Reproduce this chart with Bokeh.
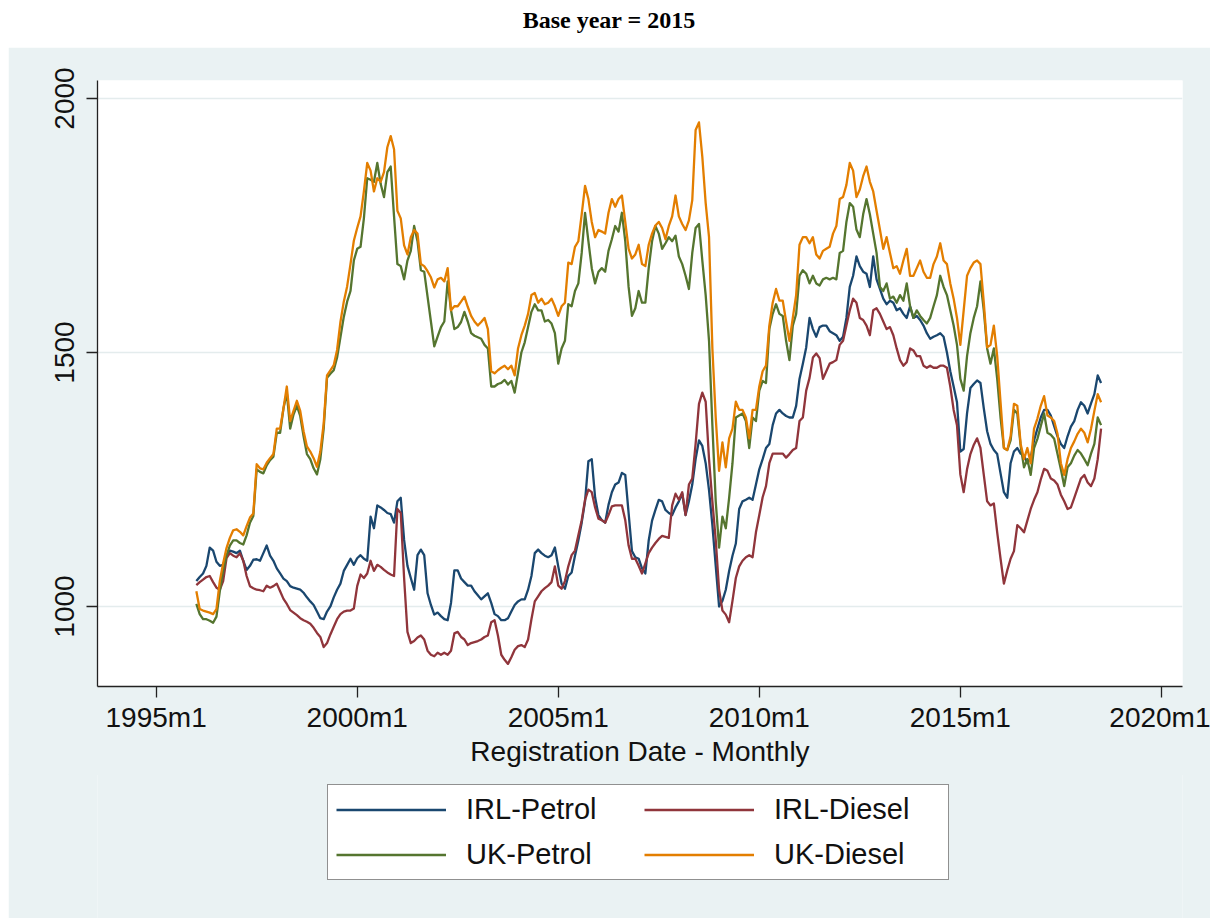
from bokeh.plotting import figure
from bokeh.models import (ColumnDataSource, FixedTicker, Legend, LegendItem,
                          Div, Range1d)
from bokeh.layouts import column
from bokeh.embed import file_html
from bokeh.resources import INLINE

# ---------------- data (monthly index, Stata %tm: 432 = 1996m1) ----------------
start_month = 432

irl_petrol = [
    1050, 1058, 1065, 1080, 1116, 1110, 1088, 1080, 1082, 1100, 1110, 1108,  # 1996
    1105, 1110, 1090, 1072, 1080, 1092, 1093, 1090, 1105, 1120, 1100, 1090,  # 1997
    1075, 1065, 1055, 1050, 1040, 1037, 1035, 1033, 1027, 1018, 1010, 1003,  # 1998
    990, 977, 975, 990, 1000, 1018, 1033, 1045, 1070, 1082, 1094, 1082,      # 1999
    1095, 1101, 1094, 1090, 1177, 1154, 1199, 1195, 1190, 1184, 1182, 1165,  # 2000
    1207, 1214, 1131, 1080, 1056, 1033, 1101, 1112, 1101, 1026, 1003, 984,   # 2001
    988, 981, 975, 973, 1007, 1071, 1071, 1055, 1048, 1041, 1041, 1030,      # 2002
    1022, 1014, 1020, 1026, 1007, 985, 981, 973, 973, 977, 990, 1003,        # 2003
    1010, 1014, 1014, 1033, 1060, 1105, 1112, 1105, 1100, 1097, 1101, 1116,  # 2004
    1079, 1045, 1035, 1060, 1067, 1100, 1130, 1165, 1207, 1286, 1290, 1215,  # 2005
    1180, 1170, 1165, 1200, 1225, 1240, 1244, 1263, 1259, 1184, 1109, 1097,  # 2006
    1094, 1075, 1065, 1130, 1169, 1190, 1210, 1207, 1190, 1184, 1180, 1195,  # 2007
    1207, 1222, 1180, 1207, 1240, 1290, 1327, 1316, 1282, 1229, 1160, 1080,  # 2008
    1000, 1011, 1033, 1070, 1100, 1124, 1192, 1207, 1210, 1214, 1210, 1240,  # 2009
    1270, 1290, 1312, 1320, 1357, 1380, 1387, 1380, 1375, 1372, 1372, 1395,  # 2010
    1448, 1478, 1510, 1568, 1546, 1531, 1550, 1553, 1553, 1542, 1538, 1534,  # 2011
    1523, 1531, 1568, 1629, 1651, 1689, 1670, 1659, 1655, 1629, 1689, 1644,  # 2012
    1625, 1606, 1595, 1602, 1598, 1583, 1587, 1576, 1568, 1591, 1568, 1572,  # 2013
    1564, 1553, 1538, 1527, 1531, 1534, 1538, 1531, 1500, 1463, 1433, 1402,  # 2014
    1305, 1310, 1380, 1430, 1438, 1445, 1440, 1390, 1345, 1320, 1308, 1300,  # 2015
    1262, 1225, 1214, 1282, 1305, 1312, 1301, 1297, 1282, 1293, 1327, 1350,  # 2016
    1372, 1387, 1387, 1376, 1355, 1335, 1320, 1312, 1335, 1354, 1365, 1387,  # 2017
    1402, 1395, 1380, 1400, 1418, 1455, 1440,                                # 2018
]

irl_diesel = [
    1042, 1048, 1053, 1058, 1060, 1048, 1037, 1033, 1050, 1095, 1105, 1100,  # 1996
    1097, 1105, 1090, 1060, 1040, 1036, 1033, 1032, 1030, 1041, 1037, 1040,  # 1997
    1045, 1030, 1015, 1005, 993, 988, 983, 977, 973, 970, 966, 958,          # 1998
    948, 940, 920, 928, 945, 960, 975, 985, 990, 992, 992, 996,              # 1999
    1040, 1063, 1056, 1065, 1090, 1070, 1082, 1078, 1072, 1067, 1063, 1060,  # 2000
    1192, 1184, 1056, 950, 928, 932, 939, 943, 935, 913, 905, 902,           # 2001
    909, 905, 909, 905, 913, 947, 950, 940, 935, 924, 928, 930,              # 2002
    932, 935, 940, 943, 969, 973, 943, 905, 895, 887, 900, 915,              # 2003
    922, 924, 920, 935, 975, 1010, 1020, 1030, 1036, 1041, 1048, 1079,       # 2004
    1041, 1035, 1050, 1079, 1101, 1110, 1140, 1170, 1210, 1230, 1225, 1195,  # 2005
    1173, 1170, 1165, 1180, 1197, 1199, 1199, 1199, 1170, 1120, 1094, 1094,  # 2006
    1080, 1065, 1085, 1105, 1116, 1125, 1133, 1139, 1137, 1135, 1199, 1222,  # 2007
    1210, 1225, 1180, 1240, 1252, 1320, 1399, 1421, 1403, 1290, 1207, 1131,  # 2008
    1033, 992, 984, 969, 1011, 1056, 1079, 1090, 1097, 1101, 1097, 1146,     # 2009
    1180, 1215, 1237, 1282, 1301, 1301, 1301, 1301, 1293, 1300, 1308, 1312,  # 2010
    1365, 1372, 1425, 1450, 1490, 1498, 1489, 1448, 1463, 1478, 1481, 1485,  # 2011
    1515, 1523, 1553, 1583, 1606, 1598, 1568, 1564, 1553, 1534, 1583, 1587,  # 2012
    1576, 1561, 1546, 1550, 1534, 1508, 1485, 1474, 1481, 1508, 1504, 1493,  # 2013
    1493, 1474, 1470, 1474, 1470, 1470, 1474, 1474, 1470, 1433, 1387, 1357,  # 2014
    1260, 1225, 1270, 1300, 1318, 1331, 1312, 1259, 1207, 1199, 1203, 1146,  # 2015
    1094, 1045, 1071, 1094, 1109, 1160, 1154, 1146, 1169, 1192, 1210, 1225,  # 2016
    1250, 1271, 1267, 1252, 1248, 1240, 1220, 1207, 1192, 1195, 1214, 1233,  # 2017
    1252, 1259, 1244, 1237, 1252, 1290, 1350,                                # 2018
]

uk_petrol = [
    1005, 985, 975, 975, 972, 968, 980, 1030, 1070, 1100, 1120, 1130,        # 1996
    1130, 1125, 1122, 1140, 1165, 1178, 1270, 1265, 1262, 1278, 1288, 1295,  # 1997
    1342, 1342, 1390, 1420, 1350, 1378, 1395, 1375, 1335, 1300, 1290, 1272,  # 1998
    1260, 1290, 1350, 1450, 1458, 1465, 1490, 1530, 1570, 1600, 1621, 1681,  # 1999
    1704, 1708, 1764, 1843, 1840, 1836, 1873, 1832, 1806, 1855, 1866, 1768,  # 2000
    1674, 1670, 1644, 1681, 1700, 1749, 1719, 1662, 1659, 1610, 1561, 1512,  # 2001
    1531, 1550, 1561, 1640, 1583, 1546, 1550, 1560, 1580, 1561, 1538, 1533,  # 2002
    1530, 1527, 1515, 1508, 1433, 1433, 1438, 1440, 1446, 1437, 1444, 1421,  # 2003
    1460, 1500, 1520, 1550, 1580, 1595, 1583, 1583, 1561, 1564, 1557, 1538,  # 2004
    1478, 1508, 1523, 1595, 1591, 1621, 1636, 1696, 1775, 1719, 1666, 1636,  # 2005
    1659, 1666, 1659, 1700, 1723, 1749, 1738, 1775, 1719, 1629, 1572, 1587,  # 2006
    1621, 1598, 1598, 1666, 1719, 1749, 1734, 1704, 1715, 1727, 1719, 1730,  # 2007
    1689, 1674, 1651, 1625, 1696, 1745, 1753, 1681, 1613, 1523, 1357, 1207,  # 2008
    1116, 1177, 1154, 1214, 1282, 1372, 1376, 1380, 1365, 1312, 1372, 1365,  # 2009
    1425, 1444, 1440, 1546, 1576, 1595, 1576, 1572, 1523, 1485, 1553, 1576,  # 2010
    1651, 1662, 1655, 1636, 1651, 1636, 1632, 1644, 1647, 1644, 1647, 1644,  # 2011
    1696, 1700, 1757, 1794, 1787, 1742, 1727, 1772, 1802, 1772, 1734, 1696,  # 2012
    1629, 1621, 1636, 1606, 1610, 1598, 1613, 1602, 1636, 1591, 1568, 1583,  # 2013
    1572, 1564, 1557, 1568, 1591, 1613, 1651, 1629, 1613, 1583, 1553, 1515,  # 2014
    1448, 1425, 1493, 1538, 1568, 1591, 1640, 1583, 1508, 1478, 1508, 1448,  # 2015
    1372, 1312, 1308, 1327, 1387, 1380, 1316, 1274, 1290, 1259, 1312, 1330,  # 2016
    1355, 1380, 1342, 1338, 1330, 1300, 1270, 1237, 1274, 1282, 1297, 1308,  # 2017
    1301, 1290, 1278, 1301, 1320, 1372, 1357,                                # 2018
]

uk_diesel = [
    1030, 995, 992, 990, 988, 985, 995, 1050, 1085, 1115, 1135, 1150,        # 1996
    1152, 1147, 1140, 1158, 1175, 1183, 1280, 1272, 1270, 1283, 1292, 1300,  # 1997
    1350, 1350, 1390, 1433, 1365, 1385, 1405, 1385, 1345, 1315, 1305, 1292,  # 1998
    1275, 1305, 1360, 1455, 1465, 1475, 1505, 1560, 1600, 1630, 1674, 1720,  # 1999
    1745, 1768, 1817, 1873, 1858, 1817, 1843, 1836, 1855, 1904, 1926, 1900,  # 2000
    1779, 1764, 1711, 1693, 1727, 1741, 1734, 1674, 1670, 1660, 1648, 1628,  # 2001
    1644, 1647, 1640, 1666, 1583, 1591, 1591, 1600, 1610, 1590, 1572, 1561,  # 2002
    1553, 1560, 1568, 1546, 1463, 1459, 1465, 1470, 1474, 1467, 1474, 1455,  # 2003
    1508, 1534, 1553, 1576, 1613, 1617, 1598, 1606, 1595, 1598, 1606, 1591,  # 2004
    1572, 1591, 1598, 1677, 1674, 1708, 1719, 1772, 1828, 1802, 1757, 1727,  # 2005
    1741, 1738, 1734, 1775, 1802, 1787, 1802, 1809, 1757, 1704, 1685, 1693,  # 2006
    1712, 1674, 1670, 1712, 1734, 1750, 1757, 1745, 1723, 1749, 1768, 1809,  # 2007
    1768, 1753, 1741, 1760, 1800, 1938, 1953, 1885, 1794, 1727, 1508, 1372,  # 2008
    1267, 1323, 1274, 1331, 1350, 1403, 1387, 1387, 1372, 1331, 1387, 1387,  # 2009
    1433, 1463, 1474, 1553, 1598, 1625, 1602, 1602, 1561, 1523, 1568, 1613,  # 2010
    1712, 1727, 1727, 1715, 1727, 1693, 1685, 1700, 1704, 1708, 1734, 1749,  # 2011
    1802, 1806, 1830, 1873, 1858, 1806, 1821, 1847, 1866, 1836, 1817, 1779,  # 2012
    1742, 1704, 1727, 1696, 1666, 1670, 1655, 1681, 1704, 1651, 1651, 1666,  # 2013
    1681, 1659, 1647, 1647, 1674, 1689, 1715, 1681, 1674, 1636, 1606, 1568,  # 2014
    1515, 1583, 1651, 1666, 1677, 1681, 1674, 1598, 1510, 1515, 1553, 1493,  # 2015
    1402, 1312, 1308, 1335, 1399, 1395, 1320, 1290, 1312, 1282, 1350, 1370,  # 2016
    1395, 1414, 1376, 1372, 1365, 1340, 1282, 1259, 1290, 1312, 1325, 1340,  # 2017
    1350, 1342, 1323, 1350, 1385, 1418, 1402,                                # 2018
]

series_names = ["IRL-Petrol", "IRL-Diesel", "UK-Petrol", "UK-Diesel"]
series_colors = ["#1A476F", "#90353B", "#55752F", "#E37E00"]

x_tick_months = [420, 480, 540, 600, 660, 720]
x_tick_labels = ["1995m1", "2000m1", "2005m1", "2010m1", "2015m1", "2020m1"]
y_ticks = [1000, 1500, 2000]

months = list(range(start_month, start_month + len(irl_petrol)))
source = ColumnDataSource(dict(
    month=months,
    irl_petrol=irl_petrol,
    irl_diesel=irl_diesel,
    uk_petrol=uk_petrol,
    uk_diesel=uk_diesel,
))
columns = ["irl_petrol", "irl_diesel", "uk_petrol", "uk_diesel"]

# ---------------- main figure ----------------
PANEL = "#EAF2F3"
FONT = "Liberation Sans"

p = figure(width=1202, height=728, output_backend="svg", toolbar_location=None,
           x_range=Range1d(402.5, 726.3), y_range=Range1d(842.5, 2035.4),
           min_border_left=89, min_border_right=28, min_border_top=33,
           min_border_bottom=89)
p.margin = (0, 8, 0, 8)
p.border_fill_color = PANEL
p.background_fill_color = "white"
p.outline_line_color = None

p.xgrid.visible = False
p.ygrid.ticker = FixedTicker(ticks=y_ticks)
p.ygrid.grid_line_color = "#E4ECED"
p.ygrid.grid_line_width = 1.5

for col, color in zip(columns, series_colors):
    p.line("month", col, source=source, line_color=color, line_width=2.3,
           line_join="round")

# x axis
p.xaxis.ticker = FixedTicker(ticks=x_tick_months)
p.xaxis.major_label_overrides = {m: l for m, l in zip(x_tick_months, x_tick_labels)}
p.xaxis.axis_label = "Registration Date - Monthly"
p.xaxis.axis_label_text_font = FONT
p.xaxis.axis_label_text_font_style = "normal"
p.xaxis.axis_label_text_font_size = "28px"
p.xaxis.axis_label_text_color = "#111111"
p.xaxis.axis_label_standoff = 0
p.xaxis.major_label_standoff = 4

# y axis
p.yaxis.ticker = FixedTicker(ticks=y_ticks)
p.yaxis.major_label_orientation = "vertical"
p.yaxis.major_label_standoff = 12

for ax in (p.xaxis[0], p.yaxis[0]):
    ax.axis_line_color = "#222222"
    ax.axis_line_width = 1.3
    ax.major_tick_line_color = "#222222"
    ax.major_tick_line_width = 1.3
    ax.major_tick_out = 11
    ax.major_tick_in = 0
    ax.minor_tick_out = 0
    ax.minor_tick_in = 0
    ax.major_label_text_font = FONT
    ax.major_label_text_font_size = "28px"
    ax.major_label_text_color = "#111111"

# ---------------- legend strip (same panel colour) ----------------
lg = figure(width=1202, height=145, output_backend="svg", toolbar_location=None,
            x_range=Range1d(0, 1), y_range=Range1d(0, 1),
            min_border=0, x_axis_location=None, y_axis_location=None)
lg.margin = (-2, 8, 0, 8)
lg.border_fill_color = PANEL
lg.background_fill_color = PANEL
lg.outline_line_color = None
lg.grid.visible = False

nan = float("nan")
key_renderers = []
for color in series_colors:
    key_renderers.append(lg.line(x=[nan], y=[nan], line_color=color, line_width=2.3))

legend = Legend(
    items=[LegendItem(label=n, renderers=[r])
           for n, r in zip(series_names, key_renderers)],
    location=(230, 38),
    orientation="horizontal",
    ncols=2,
    glyph_width=110,
    glyph_height=25,
    label_height=25,
    label_width=166,
    label_standoff=20,
    spacing=12,
    padding=8,
    margin=0,
    border_line_color="#222222",
    border_line_width=1.3,
    background_fill_color="white",
    background_fill_alpha=1.0,
    label_text_font=FONT,
    label_text_font_size="29px",
    label_text_color="#111111",
)
lg.add_layout(legend)

title = Div(text="Base year = 2015", width=1218, height=47,
            styles={"text-align": "center",
                    "font-family": "'Liberation Serif', 'Times New Roman', serif",
                    "font-weight": "bold", "font-size": "24px",
                    "line-height": "40px", "color": "#000000",
                    "background-color": "white"})
title.margin = (0, 0, 0, 0)

layout = column(title, p, lg, spacing=0)

open("out.html", "w").write(file_html(layout, INLINE))
